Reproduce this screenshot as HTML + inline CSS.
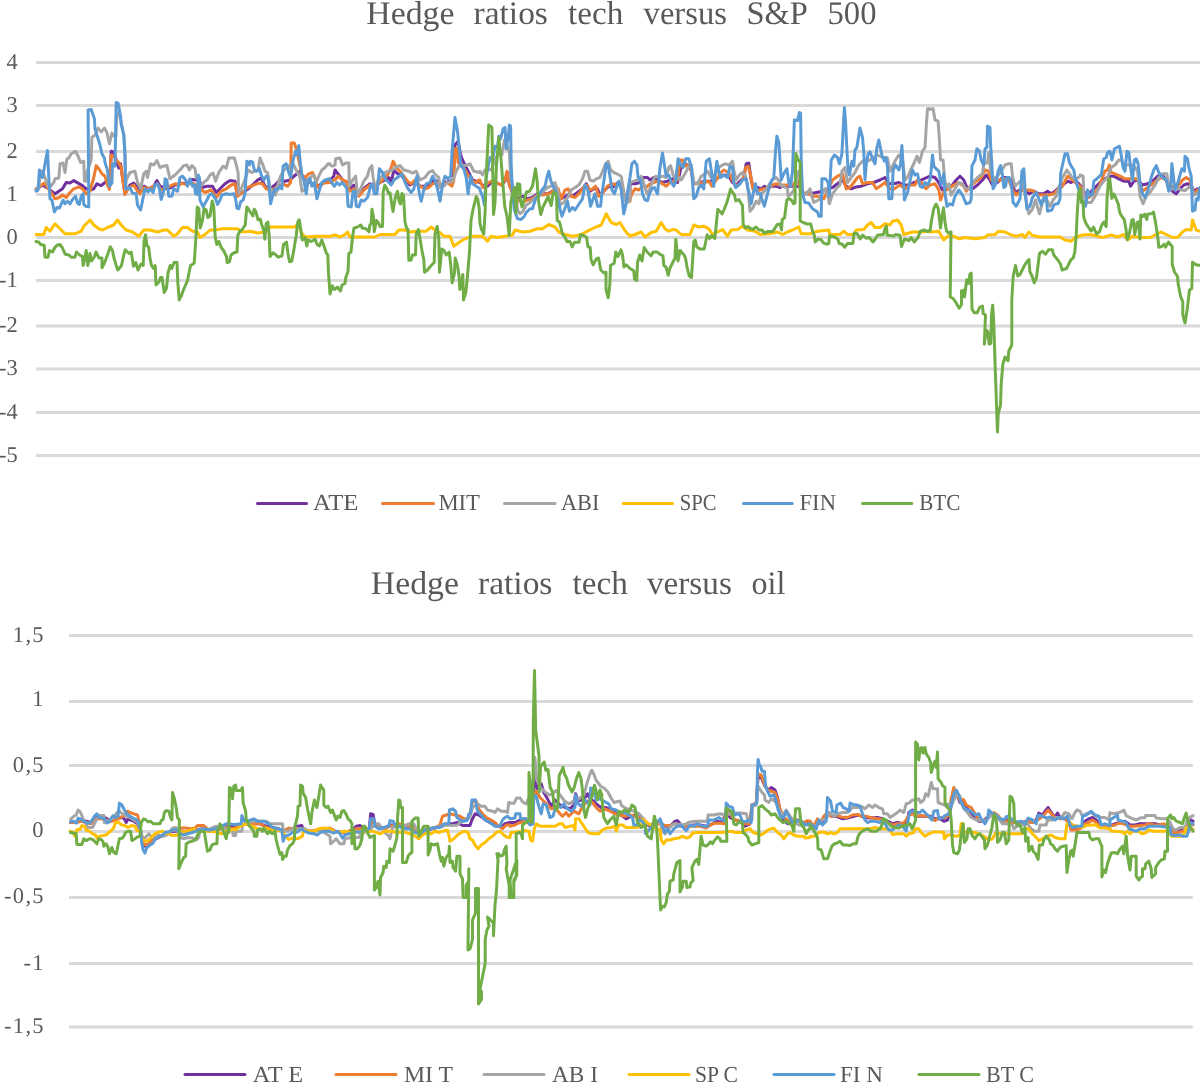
<!DOCTYPE html><html><head><meta charset="utf-8"><title>Hedge ratios</title><style>html,body{margin:0;padding:0;background:#fff}body{width:1200px;height:1082px;overflow:hidden}svg{display:block;will-change:transform}text{font-family:"Liberation Serif",serif;fill:#595959;text-rendering:geometricPrecision}</style></head><body>
<svg width="1200" height="1082" viewBox="0 0 1200 1082">
<rect width="1200" height="1082" fill="#fff"/>
<rect x="36.2" y="61.0" width="1164" height="3" fill="#d9d9d9"/>
<text x="17.8" y="68.8" font-size="22.5" text-anchor="end">4</text>
<rect x="36.2" y="104.0" width="1164" height="3" fill="#d9d9d9"/>
<text x="17.8" y="111.8" font-size="22.5" text-anchor="end">3</text>
<rect x="36.2" y="150.0" width="1164" height="3" fill="#d9d9d9"/>
<text x="17.8" y="157.8" font-size="22.5" text-anchor="end">2</text>
<rect x="36.2" y="193.0" width="1164" height="3" fill="#d9d9d9"/>
<text x="17.8" y="200.8" font-size="22.5" text-anchor="end">1</text>
<rect x="36.2" y="236.0" width="1164" height="3" fill="#d9d9d9"/>
<text x="17.8" y="243.8" font-size="22.5" text-anchor="end">0</text>
<rect x="36.2" y="279.0" width="1164" height="3" fill="#d9d9d9"/>
<text x="17.8" y="286.8" font-size="22.5" text-anchor="end">-1</text>
<rect x="36.2" y="324.5" width="1164" height="3" fill="#d9d9d9"/>
<text x="17.8" y="332.3" font-size="22.5" text-anchor="end">-2</text>
<rect x="36.2" y="367.5" width="1164" height="3" fill="#d9d9d9"/>
<text x="17.8" y="375.3" font-size="22.5" text-anchor="end">-3</text>
<rect x="36.2" y="411.0" width="1164" height="3" fill="#d9d9d9"/>
<text x="17.8" y="418.8" font-size="22.5" text-anchor="end">-4</text>
<rect x="36.2" y="454.0" width="1164" height="3" fill="#d9d9d9"/>
<text x="17.8" y="461.8" font-size="22.5" text-anchor="end">-5</text>
<rect x="68.9" y="634.0" width="1123.9" height="3" fill="#d9d9d9"/>
<text x="44.9" y="641.8" font-size="22.5" text-anchor="end" letter-spacing="1.3">1,5</text>
<rect x="68.9" y="700.0" width="1123.9" height="3" fill="#d9d9d9"/>
<text x="44.9" y="705.6" font-size="22.5" text-anchor="end" letter-spacing="1.3">1</text>
<rect x="68.9" y="764.0" width="1123.9" height="3" fill="#d9d9d9"/>
<text x="44.9" y="771.8" font-size="22.5" text-anchor="end" letter-spacing="1.3">0,5</text>
<rect x="68.9" y="830.0" width="1123.9" height="3" fill="#d9d9d9"/>
<text x="44.9" y="837.0" font-size="22.5" text-anchor="end" letter-spacing="1.3">0</text>
<rect x="68.9" y="896.0" width="1123.9" height="3" fill="#d9d9d9"/>
<text x="44.9" y="903.4" font-size="22.5" text-anchor="end" letter-spacing="1.3">-0,5</text>
<rect x="68.9" y="962.0" width="1123.9" height="3" fill="#d9d9d9"/>
<text x="44.9" y="969.6" font-size="22.5" text-anchor="end" letter-spacing="1.3">-1</text>
<rect x="68.9" y="1025.5" width="1123.9" height="3" fill="#d9d9d9"/>
<text x="44.9" y="1033.0" font-size="22.5" text-anchor="end" letter-spacing="1.3">-1,5</text>
<text x="366.3" y="23.6" font-size="33" textLength="88.2" lengthAdjust="spacingAndGlyphs">Hedge</text>
<text x="473.6" y="23.6" font-size="33" textLength="74.3" lengthAdjust="spacingAndGlyphs">ratios</text>
<text x="568.1" y="23.6" font-size="33" textLength="55.2" lengthAdjust="spacingAndGlyphs">tech</text>
<text x="643.6" y="23.6" font-size="33" textLength="83.3" lengthAdjust="spacingAndGlyphs">versus</text>
<text x="746.5" y="23.6" font-size="33" textLength="61.4" lengthAdjust="spacingAndGlyphs">S&amp;P</text>
<text x="827.5" y="23.6" font-size="33" textLength="49.0" lengthAdjust="spacingAndGlyphs">500</text>
<text x="370.8" y="593.8" font-size="33" textLength="88.2" lengthAdjust="spacingAndGlyphs">Hedge</text>
<text x="478.1" y="593.8" font-size="33" textLength="74.3" lengthAdjust="spacingAndGlyphs">ratios</text>
<text x="572.6" y="593.8" font-size="33" textLength="55.2" lengthAdjust="spacingAndGlyphs">tech</text>
<text x="647.0" y="593.8" font-size="33" textLength="84.8" lengthAdjust="spacingAndGlyphs">versus</text>
<text x="751.6" y="593.8" font-size="33" textLength="33.8" lengthAdjust="spacingAndGlyphs">oil</text>
<polyline points="36.2,189.4 42.5,185.0 45.6,186.9 48.8,188.8 55.0,193.8 58.8,191.2 62.5,188.8 66.2,182.5 70.0,183.1 73.8,180.6 78.1,183.1 82.5,185.6 86.2,188.8 90.0,190.0 93.8,188.8 96.9,183.8 101.2,185.6 105.0,182.5 108.1,180.0 110.0,185.0 111.2,151.2 113.8,151.9 116.2,160.0 118.8,168.1 120.6,163.8 122.5,177.5 125.0,193.8 130.0,185.0 133.8,183.1 137.5,187.5 140.6,190.0 143.8,186.2 148.8,188.8 153.8,186.2 156.9,180.6 160.0,186.2 163.8,187.5 167.5,188.8 171.2,187.5 175.0,185.0 180.0,183.8 180.0,183.1 186.2,183.8 191.9,179.4 196.2,180.0 200.0,181.9 201.9,187.5 206.9,186.2 212.5,186.2 216.2,192.5 220.0,188.8 225.0,183.8 230.0,180.6 235.0,181.2 237.5,195.0 242.5,192.5 247.5,189.4 252.5,185.0 257.5,180.0 261.2,178.1 265.0,186.2 270.0,188.8 275.0,185.0 280.0,180.0 285.0,181.2 290.0,180.0 292.5,177.5 300.0,171.2 303.8,178.8 310.0,182.5 317.5,186.2 323.8,182.5 330.0,182.5 330.0,180.0 333.8,176.2 335.0,170.0 338.8,175.0 342.5,180.0 347.5,182.5 350.0,188.8 353.8,185.0 356.2,188.8 358.8,193.8 365.0,187.5 370.0,183.8 375.0,186.2 380.0,182.5 385.0,180.0 388.8,177.5 391.2,182.5 393.8,170.0 397.5,173.8 401.2,175.0 405.0,180.0 410.0,185.0 415.0,182.5 420.0,186.2 425.0,186.2 430.0,183.8 433.8,180.0 437.5,181.2 440.0,186.2 445.0,182.5 450.0,181.2 453.1,180.0 455.0,145.0 458.1,141.2 460.6,155.0 463.1,161.2 466.2,167.5 468.8,172.5 472.5,180.0 476.2,181.2 480.0,182.5 480.0,182.5 483.8,186.2 487.5,186.2 491.2,182.5 496.2,182.5 501.2,185.0 505.0,181.2 507.5,172.5 509.4,185.0 512.5,192.5 517.5,198.8 522.5,196.2 527.5,198.8 532.5,197.5 537.5,193.8 542.5,193.8 547.5,193.8 552.5,191.2 557.5,190.0 561.2,198.8 567.5,195.0 572.5,196.2 577.5,192.5 582.5,188.8 586.2,183.8 590.0,191.2 593.8,188.8 597.5,188.8 600.0,195.0 605.0,190.0 608.8,186.2 612.5,187.5 616.2,183.8 618.8,182.5 622.5,190.0 626.2,200.0 630.0,198.8 630.0,183.8 635.0,183.8 640.0,182.5 643.8,177.5 647.5,177.5 650.0,180.0 653.8,177.5 657.5,180.0 662.5,182.5 667.5,181.2 672.5,178.8 677.5,182.5 681.2,167.5 683.8,163.8 687.5,165.0 691.2,170.0 693.8,183.8 700.0,182.5 705.0,181.2 710.0,181.2 715.0,180.0 720.0,176.2 725.0,175.0 728.8,176.2 732.5,182.5 736.2,185.0 740.0,181.2 743.8,177.5 746.2,163.8 748.8,163.1 751.2,180.0 753.8,190.0 757.5,187.5 761.2,188.8 764.4,186.2 767.5,188.8 771.2,186.2 776.2,186.2 780.0,187.5 780.0,186.2 786.2,186.2 792.5,186.2 798.8,186.2 803.8,193.8 810.0,193.8 816.2,192.5 822.5,191.2 827.5,188.8 832.5,187.5 837.5,183.8 842.5,180.0 846.2,186.2 851.2,188.8 856.2,186.9 861.2,186.2 867.5,183.8 873.8,182.5 880.0,180.0 885.0,177.5 888.8,183.8 893.8,183.8 898.8,182.5 903.8,185.0 908.8,185.0 913.8,182.5 918.8,181.2 923.8,178.8 930.0,176.2 930.0,176.2 935.0,177.5 938.8,182.5 942.5,190.0 947.5,188.8 952.5,185.0 956.2,180.0 960.0,176.2 963.8,180.0 967.5,188.8 972.5,188.8 977.5,185.0 982.5,180.0 986.2,175.0 990.0,180.0 992.5,185.0 997.5,182.5 1002.5,177.5 1007.5,177.5 1011.2,180.0 1015.0,192.5 1020.0,190.0 1023.8,188.8 1028.8,193.8 1033.8,191.2 1038.8,193.8 1043.8,193.8 1047.5,191.2 1051.2,193.8 1055.0,191.2 1058.8,187.5 1062.5,185.0 1067.5,181.2 1071.2,182.5 1075.0,180.0 1080.0,185.0 1080.0,185.0 1083.8,192.5 1088.8,193.8 1093.8,188.8 1100.0,182.5 1105.0,178.8 1110.0,176.2 1113.8,176.2 1118.8,178.8 1123.8,181.2 1128.8,181.2 1130.6,186.2 1133.8,181.2 1137.5,180.0 1142.5,185.0 1147.5,183.8 1152.5,181.2 1157.5,176.2 1162.5,175.0 1167.5,182.5 1172.5,191.2 1176.2,193.8 1180.0,188.8 1183.8,185.0 1187.5,183.8 1191.2,185.0 1193.8,191.2 1197.5,188.8 1200.0,190.0" fill="none" stroke="#7030a0" stroke-width="3.0" stroke-linejoin="round" stroke-linecap="round"/>
<polyline points="36.2,188.8 40.0,186.2 44.4,183.1 47.5,187.5 51.2,192.5 55.0,198.8 59.4,197.5 62.5,195.0 66.2,197.5 70.0,192.5 73.8,188.8 78.8,186.9 82.5,188.8 86.2,193.8 90.0,191.2 93.8,177.5 96.2,165.6 98.8,168.8 101.9,173.8 105.0,176.2 107.5,185.0 109.4,189.4 111.2,155.0 113.8,156.2 116.2,160.0 118.8,162.5 121.2,167.5 123.1,182.5 125.0,194.4 128.8,187.5 133.8,185.0 137.5,191.2 140.0,193.8 143.8,187.5 148.8,188.8 153.8,186.2 157.5,183.8 161.2,190.0 166.2,187.5 170.0,186.2 175.0,183.8 180.0,185.0 180.0,183.1 186.2,184.4 192.5,183.1 196.2,185.0 201.9,190.0 205.0,192.5 211.2,190.0 216.2,197.5 221.2,191.2 226.2,188.8 231.2,185.0 235.0,183.8 237.5,196.2 242.5,192.5 247.5,187.5 252.5,185.6 258.8,183.1 262.5,183.8 266.2,188.8 271.2,190.0 276.2,187.5 282.5,183.8 287.5,186.2 290.6,182.5 291.2,143.1 294.4,143.1 296.9,151.2 298.8,160.0 301.9,175.0 305.0,177.5 308.8,173.8 312.5,172.5 315.0,177.5 317.5,187.5 323.8,183.1 330.0,182.5 330.0,181.2 335.0,180.0 338.1,176.2 342.5,180.0 346.2,181.2 350.0,191.2 355.0,188.8 358.8,196.2 363.8,190.0 370.0,185.0 375.0,185.0 380.0,182.5 383.8,178.8 387.5,175.0 391.2,167.5 393.1,161.2 396.2,167.5 400.0,171.2 403.8,176.2 407.5,181.2 411.2,183.8 415.0,180.0 420.0,186.2 425.0,188.8 428.8,187.5 432.5,183.8 437.5,182.5 442.5,185.0 447.5,182.5 451.9,186.2 453.8,180.0 455.0,148.8 456.9,148.8 458.1,162.5 461.2,165.0 465.0,170.0 468.8,176.2 472.5,181.2 476.2,182.5 478.8,180.0 480.0,180.0 480.0,181.2 483.1,187.5 486.9,183.8 491.2,181.2 496.2,182.5 501.2,185.0 505.0,180.0 506.9,171.2 509.4,185.0 512.5,193.8 517.5,200.0 522.5,202.5 527.5,200.0 532.5,198.8 537.5,195.0 542.5,195.0 547.5,193.8 551.2,192.5 555.0,188.8 558.1,188.8 561.2,198.8 565.0,190.0 568.1,188.8 571.2,196.2 575.0,197.5 578.8,193.8 582.5,188.8 586.2,185.0 590.0,190.0 592.5,188.8 595.6,186.2 598.8,196.2 603.1,192.5 607.5,186.2 612.5,183.8 616.2,185.0 620.0,185.0 623.8,193.8 627.5,201.2 630.0,201.2 630.0,198.8 632.5,192.5 635.0,188.8 638.8,190.0 642.5,186.2 646.2,187.5 650.0,183.8 653.8,182.5 657.5,181.2 662.5,183.8 666.2,186.2 670.0,182.5 673.8,181.2 677.5,180.0 680.0,160.0 682.5,160.0 685.0,166.2 688.1,165.0 691.2,171.2 693.8,183.8 698.8,183.8 703.8,182.5 708.8,181.2 711.9,186.2 716.2,180.0 720.0,173.8 723.8,170.0 728.8,172.5 732.5,180.0 736.2,186.2 740.0,183.8 743.8,177.5 745.6,167.5 748.1,166.2 750.6,175.0 753.1,190.0 756.2,191.2 760.0,190.0 763.8,188.8 767.5,188.8 772.5,185.0 776.2,183.8 780.0,185.0 780.0,185.0 786.2,185.0 792.5,185.0 797.5,180.0 802.5,193.8 807.5,192.5 812.5,196.2 817.5,196.2 823.8,198.8 827.5,190.0 832.5,180.0 837.5,176.2 842.5,173.8 846.2,188.8 850.0,187.5 853.8,182.5 857.5,177.5 860.0,176.2 862.5,183.8 867.5,182.5 872.5,182.5 876.2,188.8 880.0,186.2 885.0,182.5 888.8,187.5 892.5,190.0 896.2,187.5 900.0,185.0 905.0,188.8 910.0,185.0 915.0,185.0 917.5,180.0 922.5,183.8 926.2,188.8 930.0,185.0 930.0,185.0 935.0,183.8 938.8,190.0 940.6,200.0 943.8,191.2 948.8,188.8 953.8,185.0 958.8,182.5 963.8,186.2 966.2,191.2 971.2,185.0 976.2,181.2 981.2,177.5 985.0,170.0 988.1,171.2 991.2,180.0 995.0,181.2 1000.0,180.0 1005.0,178.8 1008.8,180.0 1012.5,190.0 1016.2,195.0 1020.0,191.2 1025.0,190.0 1030.0,190.0 1033.8,191.2 1038.8,195.0 1043.8,195.0 1048.8,195.0 1053.8,193.8 1057.5,190.0 1062.5,186.2 1067.5,176.2 1071.2,178.8 1075.0,182.5 1080.0,186.2 1080.0,186.2 1083.8,196.2 1088.8,197.5 1093.8,193.8 1098.8,187.5 1102.5,177.5 1105.0,171.2 1107.5,170.0 1109.4,165.0 1111.2,172.5 1115.0,173.8 1120.0,176.2 1125.0,178.8 1130.0,178.8 1135.0,178.8 1138.8,180.0 1142.5,191.2 1147.5,187.5 1152.5,183.8 1157.5,180.0 1161.2,177.5 1166.2,180.0 1170.0,185.0 1175.0,188.8 1178.8,185.0 1182.5,180.0 1186.2,177.5 1190.0,180.0 1193.8,195.0 1197.5,190.0 1200.0,192.5" fill="none" stroke="#ed7d31" stroke-width="3.0" stroke-linejoin="round" stroke-linecap="round"/>
<polyline points="35.6,189.4 38.8,187.5 40.6,171.2 42.5,171.2 45.0,177.5 48.8,187.5 50.6,186.2 53.8,182.5 55.0,178.8 58.8,178.1 60.0,163.8 63.1,163.1 65.0,172.5 66.9,158.8 68.8,158.1 71.2,153.8 75.6,151.2 78.1,156.2 80.6,162.5 83.8,161.2 84.4,181.2 86.2,181.2 86.9,172.5 91.2,160.0 91.9,137.5 95.0,135.0 98.1,128.1 101.2,131.9 104.4,128.1 106.9,132.5 109.4,143.8 111.9,133.1 114.4,136.2 116.0,136.2 116.5,115.0 118.5,112.5 120.9,121.2 121.4,124.4 123.8,135.0 125.0,155.0 125.6,188.8 126.2,180.0 130.0,172.5 135.0,171.2 137.5,182.5 140.6,188.8 143.8,173.8 146.2,171.2 147.5,177.5 150.6,163.8 153.8,165.0 156.9,160.6 160.0,167.5 163.1,166.2 166.9,165.6 170.0,178.8 175.0,175.0 180.0,170.0 180.0,170.0 183.8,165.6 186.9,165.0 189.4,170.0 191.9,165.6 195.0,168.8 196.2,177.5 198.8,180.0 200.6,186.2 204.4,181.9 207.5,179.4 210.0,175.0 213.1,173.1 215.6,181.2 218.8,172.5 223.1,166.2 226.2,168.1 228.8,158.1 234.4,158.1 236.9,167.5 238.1,172.5 238.8,193.8 241.2,188.8 243.8,182.5 245.6,177.5 248.1,170.0 251.9,172.5 255.0,171.2 258.1,170.0 260.0,158.1 262.5,163.8 265.0,171.2 267.5,172.5 270.0,187.5 273.1,193.8 275.6,195.0 278.8,181.2 280.6,176.2 283.8,170.0 287.5,167.5 290.0,165.0 293.1,163.8 296.2,170.0 300.0,177.5 301.9,191.2 305.0,190.0 306.9,180.0 310.0,177.5 313.8,175.0 316.2,182.5 318.8,176.2 321.9,170.0 325.0,167.5 328.1,163.8 330.0,163.8 330.0,165.0 332.5,166.2 335.0,165.0 335.6,158.8 340.0,158.1 342.5,165.0 345.6,163.1 348.8,163.1 349.4,186.2 351.9,181.2 355.6,176.2 357.5,195.0 360.6,188.8 363.8,181.2 367.5,176.2 369.4,168.8 371.9,165.6 373.1,177.5 375.6,190.0 378.1,180.0 381.2,177.5 385.0,172.5 388.8,171.2 392.5,170.0 395.0,167.5 400.0,165.6 403.8,170.0 408.8,171.2 412.5,173.1 416.2,171.2 420.0,180.0 425.0,177.5 428.8,172.5 432.5,170.6 435.6,175.0 438.8,177.5 440.0,187.5 443.8,186.2 447.5,182.5 452.5,181.2 456.2,171.2 458.8,166.2 462.5,165.6 466.2,165.6 470.0,163.8 473.8,171.2 480.0,172.5 480.0,171.2 482.5,175.0 485.0,170.0 487.5,168.8 491.2,170.0 495.0,160.0 498.8,152.5 501.9,155.0 504.4,140.0 506.9,145.0 509.4,152.5 510.6,177.5 513.1,187.5 515.6,190.0 517.5,210.0 520.0,213.8 523.1,211.2 526.2,205.0 530.0,202.5 533.8,198.8 537.5,195.0 541.2,193.8 544.4,190.0 547.5,187.5 551.2,186.2 555.0,182.5 557.5,190.0 560.0,205.0 563.8,202.5 567.5,197.5 571.2,190.0 575.0,187.5 578.8,185.0 582.5,178.8 585.0,171.2 587.5,171.2 590.0,180.0 593.1,181.2 596.2,178.8 600.0,177.5 603.1,170.0 605.6,163.8 608.1,161.2 610.6,170.0 613.8,172.5 616.9,173.8 621.2,176.2 623.1,187.5 625.0,200.0 627.5,202.5 630.0,200.0 630.0,182.5 633.8,181.2 637.5,180.0 641.2,176.2 644.4,185.0 646.9,193.8 650.0,188.8 653.1,180.0 655.6,176.2 658.8,177.5 662.5,176.2 666.2,177.5 668.8,167.5 670.6,165.6 673.1,175.0 675.6,180.0 678.8,177.5 681.2,180.0 685.0,173.8 688.1,167.5 691.2,165.0 693.8,182.5 697.5,183.8 701.2,176.2 705.0,173.8 707.5,171.2 711.2,177.5 715.0,175.0 718.8,167.5 722.5,165.0 725.6,163.8 728.8,165.0 732.5,161.2 733.8,170.0 736.2,180.0 739.4,175.0 742.5,172.5 745.0,175.0 747.5,183.8 750.0,211.2 753.1,207.5 756.2,201.2 758.8,203.8 761.2,193.8 765.6,190.0 768.8,185.0 772.5,180.0 776.2,177.5 780.0,182.5 780.0,185.0 783.8,186.2 787.5,188.8 788.1,196.2 791.2,193.8 793.8,190.0 796.2,182.5 798.8,171.2 801.2,177.5 803.1,195.0 806.2,193.8 810.0,188.8 811.9,196.2 813.8,202.5 816.2,201.2 818.8,200.0 821.9,193.8 825.0,188.8 827.5,195.0 829.4,203.8 832.5,193.8 836.2,188.8 840.0,185.0 841.9,171.2 845.0,167.5 847.5,182.5 851.2,177.5 855.0,172.5 858.8,165.0 862.5,161.2 866.2,161.2 870.0,160.0 873.8,157.5 877.5,155.0 882.5,157.5 887.5,158.1 890.0,171.2 892.5,166.2 895.6,160.0 898.8,155.0 902.5,160.0 905.0,180.0 907.5,177.5 910.6,170.0 913.8,163.8 916.9,156.2 919.4,162.5 922.5,151.2 925.0,147.5 926.2,127.5 927.5,108.8 930.0,108.8 930.0,109.4 933.1,108.8 935.0,120.0 938.1,121.2 939.4,140.0 940.6,160.0 943.1,160.0 944.4,177.5 946.2,187.5 948.8,183.8 951.2,195.0 955.0,188.8 958.8,182.5 962.5,183.8 965.6,188.8 968.8,188.8 972.5,182.5 977.5,177.5 982.5,173.8 983.8,163.8 987.5,162.5 988.8,152.5 990.6,171.2 993.8,178.8 997.5,176.2 1001.2,171.2 1005.0,165.0 1008.1,163.8 1011.2,163.8 1012.5,176.2 1015.0,186.2 1018.8,182.5 1022.5,180.0 1025.0,195.0 1028.8,213.8 1032.5,208.8 1035.6,200.0 1039.4,213.8 1042.5,202.5 1046.2,198.8 1050.0,206.2 1053.1,200.0 1056.2,196.2 1058.8,187.5 1062.5,177.5 1066.9,170.0 1071.2,176.2 1075.0,180.0 1080.0,176.2 1080.0,175.0 1083.1,176.2 1083.8,193.8 1087.5,202.5 1091.2,202.5 1095.0,196.2 1100.0,186.2 1103.8,181.2 1107.5,177.5 1111.2,167.5 1115.0,165.0 1118.8,160.0 1121.2,160.0 1123.8,165.0 1127.5,165.0 1131.2,165.0 1135.0,167.5 1137.5,171.2 1140.0,196.2 1143.1,203.8 1146.2,196.2 1150.0,192.5 1155.0,185.0 1158.8,177.5 1162.5,173.8 1166.9,173.8 1168.8,190.0 1172.5,188.8 1176.2,187.5 1181.2,190.0 1185.0,190.6 1188.8,187.5 1191.2,185.0 1193.8,195.0 1196.2,193.8 1200.0,191.2" fill="none" stroke="#a5a5a5" stroke-width="3.0" stroke-linejoin="round" stroke-linecap="round"/>
<polyline points="36.2,234.5 43.8,234.5 46.2,227.5 50.0,231.2 55.0,223.8 60.0,228.8 65.0,233.8 75.0,233.8 81.2,231.2 83.8,226.2 90.0,220.0 93.8,225.0 98.8,228.8 102.5,230.0 107.5,227.5 113.8,225.0 117.5,220.0 121.2,225.0 126.2,230.0 132.5,232.0 138.8,236.2 143.8,230.0 150.0,230.0 157.5,232.0 163.8,230.0 167.5,230.0 173.8,236.2 177.5,233.8 182.5,227.5 187.5,227.5 192.5,231.2 197.5,232.0 200.0,237.5 205.0,234.5 210.0,230.0 215.0,230.0 222.5,228.8 230.0,228.8 237.5,228.8 242.5,232.0 250.0,231.2 257.5,233.0 265.0,232.0 270.0,227.0 280.0,227.0 295.0,227.0 298.8,222.5 301.2,232.5 305.0,237.0 317.5,236.2 330.0,236.2 330.0,236.2 335.0,235.0 340.0,237.0 345.0,234.5 347.5,232.0 350.0,237.0 360.0,237.0 375.0,237.0 380.0,234.5 395.0,234.5 398.8,230.0 405.0,230.0 410.0,232.0 417.5,231.2 426.2,231.2 431.2,227.0 435.0,230.0 440.0,232.5 443.8,236.2 450.0,236.2 453.8,246.2 458.8,242.5 465.0,238.8 472.5,236.2 482.5,236.2 487.5,241.2 491.2,236.2 497.5,237.5 505.0,236.2 512.5,235.0 515.0,230.0 522.5,232.0 530.0,231.2 537.5,228.8 542.5,228.8 548.8,224.5 555.0,227.0 558.8,232.0 565.0,234.5 572.5,236.2 580.0,235.0 587.5,231.2 595.0,227.5 601.2,225.0 606.2,213.8 611.2,222.5 616.2,224.5 620.0,222.5 623.8,228.8 627.5,233.8 630.0,235.0 630.0,236.2 635.0,234.5 641.2,232.0 645.0,237.0 651.2,232.5 656.2,231.2 661.2,222.5 665.0,228.8 668.8,231.2 672.5,229.5 676.2,230.0 681.2,234.5 690.0,234.5 693.8,225.0 698.8,227.0 703.8,226.2 708.8,228.8 712.5,234.5 717.5,232.0 722.5,229.5 727.5,236.2 731.2,230.0 737.5,229.5 742.5,226.2 747.5,230.0 755.0,231.2 760.0,234.5 770.0,233.8 777.5,232.0 782.5,234.5 787.5,232.0 792.5,230.0 798.8,227.0 801.2,233.8 810.0,233.8 817.5,231.2 828.8,230.0 830.0,234.5 840.0,234.5 843.8,231.2 847.5,234.5 853.8,234.5 856.2,230.0 863.8,229.5 867.5,225.0 871.2,222.5 875.0,227.5 880.0,227.5 885.0,223.8 890.0,225.0 892.5,221.2 897.5,220.0 901.2,225.0 903.8,234.5 912.5,232.0 920.0,232.0 930.0,231.2 930.0,232.0 938.8,231.2 943.8,240.0 947.5,236.2 953.8,236.2 958.8,238.8 965.0,237.5 975.0,238.8 985.0,237.5 987.5,235.0 995.0,234.5 998.8,231.2 1005.0,232.0 1011.2,235.0 1016.2,236.2 1022.5,234.5 1025.0,237.5 1028.8,232.0 1032.5,235.5 1040.0,237.0 1050.0,237.0 1060.0,237.0 1065.0,240.0 1071.2,241.2 1075.0,237.5 1082.5,235.0 1090.0,234.5 1097.5,236.2 1102.5,237.5 1111.2,235.0 1117.5,237.0 1123.8,234.5 1127.5,240.0 1132.5,236.2 1140.0,237.5 1150.0,237.5 1155.0,235.0 1161.2,232.0 1166.2,234.5 1172.5,237.5 1177.5,237.5 1182.5,232.0 1186.2,229.5 1191.2,230.0 1192.5,220.0 1196.2,230.0 1200.0,231.2" fill="none" stroke="#ffc000" stroke-width="3.0" stroke-linejoin="round" stroke-linecap="round"/>
<polyline points="36.2,191.2 38.1,190.0 39.4,170.0 41.2,176.2 42.5,177.5 47.5,150.6 48.8,177.5 50.0,198.8 51.9,200.0 54.4,211.9 56.9,207.5 59.4,208.1 63.1,200.0 65.0,203.8 67.5,201.2 70.0,203.8 73.1,198.8 75.6,196.2 77.5,203.1 79.4,204.4 81.2,196.2 83.1,193.8 83.8,204.4 85.6,206.2 88.8,206.9 88.1,110.0 91.2,109.4 94.4,118.8 95.0,128.8 100.0,145.0 101.9,153.8 104.4,158.1 105.0,162.5 107.5,170.0 109.4,186.2 111.9,183.1 112.5,163.8 115.0,166.2 116.2,102.5 118.1,103.1 120.6,116.2 121.2,123.8 123.8,135.0 125.0,155.0 125.6,188.8 128.1,188.8 130.0,187.5 132.5,193.1 136.2,193.8 137.5,205.0 140.6,210.0 145.0,188.8 148.1,191.9 150.0,188.8 153.1,192.5 155.0,185.0 157.5,183.8 159.4,188.8 161.2,199.4 164.4,188.8 165.0,178.8 166.9,180.0 168.8,196.2 171.9,196.2 173.8,188.8 177.5,191.2 180.0,177.5 180.0,177.5 182.5,176.2 185.6,180.0 187.5,186.2 190.0,178.8 192.5,186.2 194.4,185.0 195.6,193.8 197.5,194.4 198.1,175.0 199.4,177.5 200.0,200.0 203.1,206.9 206.9,200.0 209.4,195.0 211.9,193.8 215.6,198.8 217.5,204.4 220.0,200.0 221.9,195.0 226.2,193.8 230.0,194.4 233.8,193.8 235.6,198.8 236.9,208.1 238.8,208.8 240.6,201.9 243.1,200.0 245.0,193.8 246.9,161.2 249.4,165.0 250.0,161.2 252.5,161.9 254.4,170.0 256.9,171.2 259.4,168.1 261.2,175.0 263.8,180.0 266.2,176.2 268.1,177.5 269.4,190.0 270.6,203.8 273.1,193.8 275.0,188.8 277.5,190.0 280.0,186.2 281.9,188.8 283.1,166.2 286.2,163.8 288.8,172.5 290.6,177.5 293.1,160.0 295.6,151.2 296.9,155.0 298.8,145.6 300.0,160.0 301.9,175.0 303.8,180.0 306.2,193.8 308.1,180.0 310.0,178.8 311.9,186.2 314.4,182.5 316.9,198.8 319.4,190.0 321.9,182.5 325.0,180.0 330.0,178.8 330.0,178.8 332.5,183.8 334.4,186.2 336.9,182.5 339.4,185.0 341.9,182.5 344.4,185.0 346.9,188.8 348.1,206.2 351.2,206.9 353.1,191.2 355.0,191.2 356.2,206.2 358.8,206.9 361.2,200.0 363.8,201.2 367.5,197.5 370.6,186.2 372.5,183.8 374.4,193.8 376.9,193.8 379.4,168.8 382.5,172.5 386.2,180.0 388.8,182.5 391.2,185.0 393.8,180.0 397.5,177.5 401.9,173.8 405.0,182.5 408.1,188.8 411.2,192.5 413.8,188.8 416.9,176.2 419.4,193.8 421.2,201.2 423.8,190.0 426.2,183.8 430.0,182.5 432.5,176.2 435.0,180.0 437.5,188.8 440.0,201.2 442.5,185.0 445.0,176.2 448.1,178.8 450.6,176.2 452.5,146.2 455.0,117.5 457.5,131.2 459.4,150.0 460.6,165.0 463.8,168.8 466.2,177.5 468.1,193.8 470.6,176.2 472.5,183.8 476.2,186.2 480.0,188.8 480.0,190.0 482.5,196.2 484.4,205.0 486.2,177.5 487.5,170.0 490.0,157.5 492.5,160.0 495.0,146.2 497.5,147.5 498.8,136.2 500.6,138.8 503.1,128.8 505.0,127.5 506.2,148.8 508.1,137.5 509.4,125.0 510.6,126.2 511.2,165.0 512.5,192.5 514.4,210.0 517.5,218.8 521.2,219.4 524.4,216.2 526.2,212.5 530.0,208.8 532.5,208.8 535.6,198.8 538.8,196.2 541.9,190.0 545.0,186.2 546.9,177.5 548.8,171.2 550.6,180.0 552.5,185.0 555.0,190.0 557.5,197.5 560.0,208.8 561.9,216.2 564.4,210.0 567.5,201.2 569.4,211.2 572.5,207.5 575.0,210.0 577.5,206.2 580.0,202.5 582.5,198.8 585.0,185.0 587.5,188.8 589.4,198.8 590.6,206.2 593.1,198.8 595.0,193.8 597.5,206.2 600.6,206.2 601.9,193.8 604.4,177.5 606.2,163.8 608.1,165.0 610.6,180.0 611.9,190.0 614.4,193.8 616.9,186.2 618.8,181.2 621.2,190.0 623.8,213.8 625.6,206.2 627.5,192.5 630.0,177.5 630.0,177.5 631.9,163.8 634.4,161.2 636.9,165.0 638.1,177.5 640.6,180.0 642.5,193.8 645.0,200.0 647.5,200.6 649.4,193.8 651.9,188.8 654.4,187.5 657.5,193.8 660.0,167.5 662.5,153.1 664.4,165.0 666.2,176.2 668.8,175.0 671.2,182.5 673.8,186.2 675.6,181.2 678.1,158.8 680.6,165.0 683.1,167.5 685.6,158.8 688.8,158.8 691.2,166.2 692.5,182.5 693.8,198.8 696.2,196.2 698.8,187.5 701.2,185.0 703.8,188.8 706.2,161.2 709.4,158.8 711.2,170.0 713.8,186.2 715.6,171.2 716.9,161.2 718.8,171.2 720.6,177.5 723.8,175.0 727.5,177.5 730.0,166.2 732.5,167.5 733.8,182.5 735.6,187.5 738.8,185.0 742.5,180.0 746.2,178.8 747.5,187.5 749.4,193.8 751.2,203.8 753.1,193.8 755.6,183.8 757.5,193.8 760.6,193.8 762.5,201.2 764.4,206.2 766.9,196.2 768.8,188.8 771.2,181.2 773.8,177.5 775.6,150.0 776.9,136.2 778.8,142.5 780.0,160.0 780.0,160.0 781.2,180.0 784.4,172.5 786.9,168.8 788.8,182.5 790.6,186.2 792.5,171.2 794.4,120.0 797.5,120.6 799.4,112.5 800.6,113.1 801.2,160.0 802.5,193.8 805.0,202.5 808.8,203.1 812.5,208.8 817.5,211.9 818.8,216.2 821.2,216.2 821.9,178.8 825.6,178.8 828.1,182.5 829.4,196.2 831.2,160.0 834.4,155.0 837.5,157.5 839.4,163.8 841.9,153.8 843.1,130.0 844.4,107.5 845.6,122.5 846.9,150.0 848.1,170.0 849.4,175.0 851.9,161.2 853.8,166.2 855.0,150.0 856.9,147.5 860.0,128.1 862.5,137.5 863.8,152.5 865.0,180.0 866.2,165.0 868.1,153.8 870.0,151.9 873.1,160.0 875.0,163.8 876.9,147.5 878.8,140.0 880.6,148.8 881.9,155.0 884.4,161.2 886.2,157.5 887.5,167.5 888.8,198.8 891.9,198.8 893.1,170.0 895.6,165.0 898.8,170.0 900.6,163.8 901.9,145.6 903.1,165.0 904.4,200.0 907.5,192.5 910.0,181.2 912.5,170.0 915.0,175.0 917.5,173.8 920.0,186.2 922.5,187.5 925.0,182.5 927.5,185.0 930.0,180.0 930.0,180.0 931.2,170.0 932.5,155.0 933.8,166.2 936.2,168.8 938.8,171.2 941.2,185.0 943.8,173.8 945.0,193.8 946.9,206.2 950.0,203.8 952.5,205.0 955.0,196.2 958.8,190.0 962.5,195.0 966.2,203.8 970.0,202.5 971.2,198.8 971.9,166.2 975.0,160.0 976.9,148.8 979.4,151.2 981.2,160.0 983.8,165.0 985.0,148.8 986.9,147.5 987.5,126.2 990.0,127.5 990.6,145.0 991.9,165.0 993.1,188.8 996.2,182.5 998.1,171.2 1000.6,165.6 1002.5,175.0 1003.8,187.5 1005.6,186.2 1006.9,177.5 1009.4,177.5 1011.9,188.8 1013.1,202.5 1016.2,206.2 1020.0,198.8 1021.9,171.2 1023.8,168.8 1025.0,188.8 1026.9,208.8 1030.0,206.2 1032.5,197.5 1036.2,192.5 1038.8,198.8 1041.2,205.0 1043.8,197.5 1046.2,196.2 1047.5,211.2 1051.9,210.0 1053.8,205.0 1056.2,203.8 1058.1,203.8 1060.0,198.8 1060.6,173.8 1062.5,165.0 1065.0,153.8 1067.5,153.8 1069.4,162.5 1071.2,166.2 1073.8,170.0 1075.0,177.5 1077.5,186.2 1080.0,193.8 1080.0,193.8 1082.5,200.0 1085.6,206.2 1087.5,190.0 1090.0,196.2 1092.5,193.8 1093.8,181.2 1096.9,178.8 1099.4,176.2 1101.2,175.0 1103.8,158.8 1106.2,157.5 1107.5,152.5 1110.0,151.2 1111.9,160.0 1114.4,148.8 1116.9,147.5 1119.4,146.2 1121.2,155.0 1123.1,167.5 1125.0,171.2 1126.9,151.2 1128.8,152.5 1130.6,167.5 1132.5,180.0 1134.4,160.0 1136.2,158.8 1138.1,163.8 1140.0,182.5 1142.5,193.8 1145.0,197.5 1148.1,190.0 1151.2,177.5 1153.8,170.0 1156.2,165.6 1158.8,172.5 1162.5,177.5 1166.2,180.0 1168.8,191.2 1170.6,187.5 1171.9,163.8 1173.8,180.0 1175.0,190.0 1177.5,183.8 1180.0,175.0 1181.9,168.8 1184.4,171.2 1185.0,156.2 1187.5,158.8 1188.8,167.5 1191.2,176.2 1192.5,211.2 1195.0,210.0 1196.2,198.8 1198.1,200.0 1200.0,187.5" fill="none" stroke="#5b9bd5" stroke-width="3.0" stroke-linejoin="round" stroke-linecap="round"/>
<polyline points="36.0,241.5 39.0,242.2 40.5,244.5 44.2,245.2 45.0,257.2 48.0,257.2 49.5,250.5 52.5,252.0 54.8,247.5 57.0,245.2 60.0,244.5 62.2,247.5 65.2,254.2 69.0,255.0 71.2,257.2 75.0,257.2 76.5,252.0 79.5,255.0 82.5,256.5 83.2,265.5 86.2,250.5 87.8,265.5 90.0,253.5 91.5,261.0 94.5,256.5 96.0,252.0 99.0,258.0 102.0,258.0 102.0,267.8 105.0,261.8 108.0,253.5 110.2,246.8 112.5,250.5 114.0,258.0 116.2,265.5 117.8,270.0 121.5,265.5 123.8,255.0 125.2,249.8 129.0,253.5 131.2,252.0 133.5,266.2 135.8,262.5 138.0,270.0 141.0,264.0 143.2,265.5 144.0,241.5 145.5,234.8 147.0,246.0 148.5,246.8 150.0,258.0 151.5,265.5 153.8,268.5 155.2,265.5 156.0,285.0 159.0,282.0 160.5,277.5 162.0,277.5 164.2,292.5 166.5,288.0 168.0,273.0 170.2,265.5 171.8,268.5 174.0,262.5 177.0,262.5 177.8,282.0 179.2,300.0 181.5,295.5 183.0,291.0 187.5,280.5 190.5,265.5 194.2,263.2 195.8,240.0 197.2,207.0 198.8,208.5 200.2,228.0 202.5,220.5 204.0,208.5 206.2,210.0 207.8,217.5 210.0,216.0 210.0,216.0 212.2,201.0 213.8,207.0 215.2,237.0 216.8,244.5 219.0,241.5 221.2,247.5 223.5,250.5 226.5,256.5 227.2,262.5 229.5,261.8 231.0,255.0 234.0,252.8 237.0,252.0 237.8,235.5 240.0,231.0 242.2,229.5 245.2,225.0 246.8,207.0 249.0,210.0 252.8,216.0 254.2,209.2 255.8,211.5 258.0,219.8 260.2,219.0 261.8,225.0 264.0,231.0 264.8,239.2 266.2,223.5 267.8,222.0 269.2,235.5 270.0,256.5 273.0,252.8 276.0,255.0 278.2,257.2 282.0,255.8 283.5,244.5 286.5,242.2 288.0,253.5 289.5,261.8 291.8,261.0 294.0,249.0 296.2,235.5 297.8,222.0 299.2,219.8 300.8,229.5 302.2,240.0 305.2,237.8 306.8,246.0 308.2,240.0 311.2,241.5 315.0,239.2 317.2,244.5 319.5,246.0 321.8,240.0 324.0,246.0 326.2,252.8 327.8,255.0 328.5,273.0 330.0,294.0 332.2,285.8 334.5,289.5 337.5,287.2 340.5,291.0 342.0,285.0 345.0,283.5 345.8,277.5 348.0,271.5 348.8,253.5 351.0,252.0 352.5,237.0 354.0,228.0 357.0,227.2 360.8,225.0 362.2,228.0 366.0,228.8 369.0,231.8 369.8,225.0 371.2,223.5 372.0,209.2 373.5,217.5 374.2,231.8 376.5,220.5 378.8,223.5 380.2,226.5 382.5,226.5 383.2,192.0 384.8,185.2 387.0,189.0 388.5,193.5 390.0,192.8 390.0,192.8 391.5,202.5 393.0,211.5 395.2,198.0 397.5,191.2 399.0,201.0 400.5,204.0 402.0,193.5 403.5,195.0 405.0,222.0 406.5,228.0 408.0,229.5 408.8,260.2 411.0,260.2 412.5,255.0 415.5,255.0 416.2,234.0 418.5,229.5 420.0,238.5 422.2,252.0 423.8,259.5 424.5,272.2 427.5,270.0 430.5,266.2 434.2,262.5 435.0,234.0 437.2,226.5 438.8,238.5 439.5,272.2 441.8,249.0 444.0,250.5 446.2,255.0 449.2,252.0 450.8,265.5 452.2,282.8 454.5,273.0 455.2,258.0 457.5,265.5 459.0,276.0 459.8,289.5 461.2,285.0 462.8,274.5 463.5,300.0 465.8,292.5 467.2,279.0 469.5,252.0 471.0,220.5 473.2,208.5 474.8,202.5 476.2,196.5 477.8,199.5 479.2,208.5 480.0,223.5 481.5,229.5 483.8,234.0 485.2,210.0 486.0,180.0 487.5,150.0 488.7,125.0 491.9,127.5 492.8,172.5 493.5,214.5 495.0,202.5 496.5,165.0 498.8,137.6 501.0,159.0 503.2,187.5 504.8,207.0 507.0,216.0 509.2,235.5 510.8,202.5 512.2,195.0 514.5,187.5 516.0,213.0 517.5,183.8 519.8,184.5 520.5,201.0 522.0,207.0 524.2,199.5 526.5,192.0 529.5,191.2 532.5,186.0 535.5,168.8 537.0,180.0 538.5,201.0 540.8,214.5 543.0,207.0 546.0,201.0 548.2,196.5 551.2,205.5 552.8,195.0 554.2,192.0 556.5,195.0 557.2,220.5 559.5,222.0 562.5,234.0 564.8,237.0 567.0,241.5 570.0,241.5 570.0,241.5 572.2,246.8 574.5,242.2 579.0,242.2 580.5,234.8 583.5,235.5 586.5,237.0 588.0,246.8 590.2,247.5 591.0,259.5 593.2,264.8 596.2,258.8 598.5,258.0 600.8,270.0 603.8,273.0 606.0,272.2 606.0,289.5 608.2,297.8 609.8,285.0 610.5,265.5 614.2,263.2 615.8,252.0 618.0,256.5 621.0,249.8 622.5,255.0 624.0,267.0 626.2,264.8 630.0,268.5 633.8,270.8 634.5,279.0 636.8,280.5 637.5,262.5 639.8,255.0 642.0,261.0 644.2,247.5 647.2,252.0 651.0,255.8 653.2,252.0 657.0,252.0 660.0,254.2 663.0,255.8 663.8,265.5 666.0,267.0 668.2,275.2 669.8,268.5 673.5,261.0 675.0,258.0 675.8,239.2 677.2,252.0 678.0,261.0 680.2,250.5 684.0,255.0 685.5,258.0 687.0,267.0 689.2,276.0 691.5,277.5 693.8,241.5 695.2,240.0 696.8,246.8 699.8,249.0 704.2,249.0 707.2,234.8 709.5,238.5 711.8,235.5 714.8,238.5 716.2,225.0 717.8,209.2 722.2,213.8 724.5,208.5 726.8,202.5 728.2,198.0 730.5,189.0 732.8,192.8 734.2,194.2 735.8,201.0 738.8,199.5 742.5,205.5 743.2,224.2 745.5,228.0 747.8,226.5 750.0,228.0 750.0,228.5 753.0,229.2 756.0,227.0 759.0,230.0 762.0,230.0 764.2,233.0 768.0,231.5 772.5,231.5 774.8,228.5 777.0,224.8 780.0,224.0 781.5,230.0 782.2,219.5 784.5,218.0 786.8,200.0 789.0,198.5 792.0,200.8 793.5,203.8 795.0,203.0 795.8,153.5 798.0,159.5 800.2,162.5 800.2,221.0 803.2,222.5 807.0,224.0 810.8,224.0 812.2,230.0 814.5,236.0 815.2,242.0 818.2,239.0 821.2,239.8 823.5,242.8 826.5,244.2 828.8,243.5 829.5,236.0 834.0,236.8 837.8,239.0 839.2,243.5 842.2,244.2 844.5,247.2 847.5,243.5 852.8,243.5 854.2,233.0 857.2,233.8 860.2,239.0 862.5,235.2 866.2,238.2 869.2,237.5 873.0,242.0 875.2,239.0 877.5,235.2 883.5,234.5 885.0,228.5 886.5,226.2 887.2,235.2 894.0,236.0 895.5,234.5 900.0,235.2 901.5,246.5 904.5,239.0 909.0,240.5 911.2,237.5 914.2,242.0 918.0,237.5 920.2,231.5 924.0,230.0 927.8,231.5 930.0,230.0 930.0,231.0 931.5,220.5 933.8,208.5 936.0,204.0 938.2,208.5 940.5,228.0 942.0,216.0 943.5,207.8 945.0,222.0 946.5,231.0 948.8,233.2 951.0,231.8 950.2,297.0 953.2,298.5 956.2,303.0 959.2,308.2 961.5,304.5 961.5,291.0 963.8,290.2 964.5,297.0 966.8,279.8 969.0,283.5 969.8,274.5 971.2,273.0 972.0,309.0 974.2,312.8 977.2,312.8 979.5,307.5 982.5,306.0 983.2,313.5 985.5,315.0 984.3,344.2 986.2,330.0 987.8,331.5 989.2,344.2 990.8,343.5 991.5,315.0 992.7,305.2 993.8,324.0 994.5,345.0 995.2,367.5 996.0,390.0 996.8,414.0 997.5,432.0 998.2,414.0 1000.5,405.0 1001.2,384.0 1002.8,364.5 1005.0,357.0 1008.0,360.8 1008.8,351.0 1011.8,345.0 1011.8,300.0 1013.2,276.0 1015.5,265.5 1017.8,276.0 1020.0,274.5 1022.2,270.0 1024.5,265.5 1026.8,261.8 1029.0,259.5 1029.8,271.5 1032.0,276.0 1034.2,282.8 1036.5,277.5 1038.0,265.5 1039.5,253.5 1042.5,251.2 1045.5,254.2 1048.5,249.8 1052.2,249.8 1053.8,255.0 1057.5,259.5 1060.5,264.0 1062.0,270.0 1066.5,268.5 1068.8,264.0 1071.0,259.5 1073.2,258.0 1074.8,252.0 1076.2,235.5 1077.0,217.5 1078.5,193.5 1080.0,189.0 1081.5,202.5 1083.0,201.0 1083.8,217.5 1086.0,223.5 1089.0,228.0 1091.2,231.0 1093.5,227.2 1096.5,234.0 1099.5,231.8 1101.8,225.0 1104.0,222.0 1106.2,226.5 1107.0,199.5 1108.5,180.0 1109.7,178.5 1110.8,188.0 1111.8,198.5 1113.8,194.0 1116.0,198.5 1118.2,203.8 1119.8,212.8 1122.0,216.5 1124.2,219.5 1125.8,227.8 1127.2,239.8 1129.5,233.0 1131.8,220.2 1133.2,219.5 1134.8,234.5 1137.0,222.5 1138.5,221.8 1140.0,239.0 1140.8,215.0 1143.0,216.5 1144.5,214.2 1146.8,219.5 1147.5,214.2 1152.0,213.5 1153.5,212.0 1155.0,219.5 1156.5,228.5 1158.0,239.0 1158.8,247.2 1161.8,246.5 1164.0,244.2 1165.5,247.2 1168.5,242.0 1170.8,245.0 1172.2,246.5 1172.2,264.5 1174.5,272.0 1177.5,276.5 1178.2,284.0 1180.5,296.0 1182.8,302.0 1182.8,314.8 1185.0,323.0 1187.2,309.5 1189.5,290.0 1191.8,288.5 1192.5,262.2 1195.5,264.5 1198.5,265.2 1200.0,265.2" fill="none" stroke="#70ad47" stroke-width="3.0" stroke-linejoin="round" stroke-linecap="round"/>
<polyline points="70.6,822.5 76.2,822.5 81.2,820.0 86.2,821.2 91.2,822.5 96.2,817.5 101.2,817.5 106.2,818.1 110.0,821.2 115.0,820.0 119.4,817.5 123.8,818.1 126.2,822.5 128.1,818.8 130.6,820.0 133.8,821.2 137.5,823.8 140.6,831.2 142.5,842.5 145.0,846.2 148.8,843.8 151.2,841.2 155.0,839.4 158.8,837.5 163.8,835.0 168.8,832.5 173.8,831.2 178.8,831.2 181.9,831.2 185.0,832.5 191.2,831.9 197.5,830.0 203.8,828.1 210.0,830.0 210.0,830.0 217.5,828.8 225.0,826.2 232.5,826.2 241.2,825.0 247.5,823.8 253.8,823.8 260.0,823.8 266.2,826.2 272.5,827.5 278.8,828.8 282.5,831.2 287.5,830.0 292.5,828.8 297.5,826.2 301.9,825.6 303.1,830.0 310.0,831.2 317.5,830.0 325.0,828.8 330.0,828.8 335.0,831.2 341.2,832.5 347.5,831.9 352.5,830.0 356.2,826.2 360.0,825.6 360.0,825.6 365.0,828.8 369.4,828.8 370.6,813.8 373.1,814.4 375.0,825.0 380.0,827.5 385.0,827.5 390.0,825.0 395.0,825.0 401.2,826.2 407.5,826.2 413.8,827.5 418.8,832.5 423.8,833.8 426.2,831.2 431.2,828.8 437.5,827.5 442.5,826.2 447.5,823.8 452.5,823.8 457.5,822.5 462.5,825.6 470.0,825.6 471.9,820.0 475.0,813.8 478.8,815.0 482.5,817.5 487.5,821.2 492.5,823.8 497.5,826.2 502.5,826.2 505.0,823.8 510.0,822.5 510.0,822.5 515.0,822.5 520.0,820.0 525.0,818.8 530.0,822.5 533.1,801.2 534.5,757.5 535.6,780.0 536.9,788.8 541.2,783.8 543.8,792.5 547.5,798.8 551.2,806.2 555.0,800.0 560.0,805.0 565.0,807.5 570.0,808.8 573.8,805.0 575.6,793.8 578.1,801.2 581.2,800.0 585.0,797.5 587.5,793.8 590.0,798.8 593.8,801.2 597.5,805.0 601.2,807.5 606.2,807.5 611.2,810.0 616.2,812.5 621.2,815.0 626.2,818.8 631.2,816.2 635.0,815.0 638.8,813.8 641.2,817.5 645.0,823.8 650.0,826.2 655.0,823.8 660.0,822.5 660.0,822.5 665.0,826.2 670.0,826.2 675.0,821.2 677.5,820.6 681.2,825.0 687.5,826.2 693.8,825.0 700.0,825.0 706.2,826.2 712.5,823.8 717.5,821.2 722.5,822.5 726.2,811.2 730.0,817.5 735.0,820.0 740.0,821.2 745.0,826.2 750.0,823.8 751.9,806.2 756.2,803.8 758.1,776.2 761.2,777.5 765.0,786.2 768.8,790.0 771.2,787.5 775.0,790.0 777.5,797.5 780.0,810.0 783.8,820.0 787.5,823.8 792.5,822.5 797.5,820.0 803.8,823.8 810.0,822.5 810.0,823.8 815.0,826.2 820.0,822.5 825.0,820.0 827.5,812.5 831.2,816.2 836.2,816.2 842.5,818.8 847.5,818.1 853.8,816.2 858.8,815.0 863.8,817.5 870.0,818.1 877.5,817.5 882.5,818.8 887.5,821.2 892.5,823.8 897.5,822.5 902.5,823.8 907.5,821.2 908.8,812.5 912.5,810.0 915.0,816.2 920.0,816.2 926.2,816.2 930.0,816.2 935.0,818.8 940.0,818.8 943.8,821.2 947.5,820.0 950.0,811.2 953.8,795.0 957.5,796.2 960.0,802.5 960.0,798.8 965.0,806.2 970.0,811.2 975.0,817.5 978.8,821.2 982.5,821.2 987.5,817.5 992.5,813.8 997.5,817.5 1002.5,822.5 1007.5,820.0 1012.5,822.5 1017.5,822.5 1022.5,822.5 1027.5,821.2 1032.5,822.5 1036.2,820.0 1038.8,813.1 1042.5,815.0 1045.0,811.2 1048.1,807.5 1051.2,812.5 1055.0,817.5 1057.5,813.1 1060.0,817.5 1065.0,818.8 1068.8,822.5 1071.2,828.8 1076.2,828.8 1081.2,827.5 1085.0,821.2 1088.8,818.8 1092.5,817.5 1096.2,820.0 1100.0,825.0 1105.0,825.0 1110.0,825.6 1110.0,825.6 1115.0,823.8 1120.0,822.5 1125.0,821.2 1130.0,825.0 1135.0,825.0 1140.0,823.8 1145.0,823.8 1150.0,823.8 1155.0,823.8 1160.0,825.0 1165.0,825.0 1170.0,826.2 1173.8,831.2 1178.8,831.2 1182.5,830.0 1186.2,828.8 1188.8,823.8 1191.2,820.0 1193.1,821.2" fill="none" stroke="#7030a0" stroke-width="3.0" stroke-linejoin="round" stroke-linecap="round"/>
<polyline points="70.6,822.5 76.2,822.5 81.2,821.2 86.2,822.5 91.2,823.8 96.2,818.8 101.2,818.8 106.2,820.0 111.2,821.2 115.0,820.0 118.8,818.8 121.2,816.9 123.8,816.2 127.5,811.2 130.0,812.5 133.8,813.8 137.5,815.0 139.4,822.5 141.2,832.5 143.1,843.8 146.2,845.0 150.0,842.5 153.8,840.0 157.5,837.5 162.5,835.0 167.5,832.5 172.5,830.6 177.5,830.0 180.6,828.1 185.0,828.1 191.2,828.8 195.0,828.1 197.5,825.6 203.8,825.6 207.5,828.8 210.0,831.2 210.0,831.2 217.5,830.0 225.0,827.5 232.5,828.8 241.2,825.0 247.5,823.8 253.8,823.8 260.0,823.8 263.8,826.2 270.0,828.8 276.2,829.4 281.2,831.2 285.0,830.0 288.8,828.1 292.5,828.8 297.5,828.8 305.0,830.0 310.0,831.2 317.5,830.6 325.0,828.8 330.0,828.1 335.0,831.2 341.2,832.5 347.5,831.9 352.5,830.0 356.2,828.8 360.0,828.8 360.0,828.8 365.0,830.0 370.0,827.5 372.5,820.0 375.0,825.0 380.0,827.5 385.0,828.8 390.0,826.2 395.0,825.0 398.8,823.8 403.8,825.0 410.0,826.2 415.0,830.0 420.0,832.5 425.0,830.0 430.0,828.8 435.0,827.5 440.0,825.0 442.5,816.2 446.2,815.0 450.0,813.8 455.0,815.0 460.0,816.2 463.8,818.8 467.5,818.8 470.0,813.8 472.5,801.2 476.2,801.2 478.8,808.8 482.5,813.8 486.2,817.5 491.2,820.0 495.0,822.5 498.8,826.2 502.5,828.8 506.2,825.0 510.0,825.0 510.0,826.2 515.0,825.0 520.0,822.5 525.0,821.2 530.0,823.8 533.8,796.2 536.2,791.2 540.0,797.5 543.8,801.2 547.5,805.0 551.2,808.8 555.0,807.5 560.0,813.8 562.5,816.2 566.2,812.5 568.8,816.2 573.8,811.2 578.8,813.8 582.5,806.2 587.5,801.2 592.5,802.5 596.2,807.5 600.0,811.2 605.0,808.8 610.0,811.2 615.0,813.8 620.0,815.0 625.0,816.2 630.0,815.0 635.0,816.2 640.0,818.8 645.0,822.5 650.0,825.0 655.0,823.8 660.0,823.8 660.0,823.8 665.0,825.6 670.0,825.6 675.0,823.8 680.0,826.2 687.5,826.2 693.8,826.2 700.0,826.2 706.2,828.1 712.5,823.8 718.8,823.1 723.8,823.8 726.2,808.8 730.0,813.8 735.0,820.0 740.0,821.2 745.0,823.8 750.0,823.8 751.9,804.4 756.2,803.8 758.1,773.8 761.2,775.0 763.8,782.5 767.5,790.0 771.2,791.2 775.0,792.5 777.5,798.8 780.0,808.8 783.8,817.5 787.5,820.0 792.5,821.2 797.5,820.0 803.8,822.5 807.5,820.6 810.0,821.2 810.0,821.2 813.8,826.2 817.5,818.8 820.0,822.5 823.8,816.2 827.5,812.5 831.2,816.2 836.2,815.0 841.2,816.9 847.5,817.5 852.5,815.0 857.5,814.4 861.2,816.2 866.2,816.2 872.5,818.1 877.5,818.8 882.5,819.4 887.5,822.5 892.5,825.0 897.5,823.8 902.5,823.8 906.2,820.0 908.8,815.0 912.5,813.8 916.2,816.2 921.2,815.6 926.2,816.2 931.2,817.5 935.0,820.6 940.0,817.5 945.0,817.5 948.8,815.0 951.2,798.8 953.8,787.5 956.2,795.0 960.0,800.0 960.0,798.8 963.8,800.0 966.2,805.0 971.2,807.5 975.0,813.8 978.8,820.0 983.8,821.2 988.8,817.5 993.8,812.5 997.5,815.0 1002.5,821.2 1007.5,821.2 1012.5,822.5 1017.5,822.5 1022.5,822.5 1027.5,821.2 1032.5,822.5 1037.5,820.0 1041.2,817.5 1045.0,813.8 1048.1,810.0 1051.2,813.8 1055.0,817.5 1060.0,818.8 1065.0,818.8 1068.8,822.5 1071.2,830.0 1076.2,830.0 1081.2,828.1 1085.0,823.8 1088.8,822.5 1092.5,820.0 1096.2,822.5 1100.0,826.2 1105.0,826.2 1110.0,826.2 1110.0,826.2 1115.0,825.0 1118.8,823.1 1123.8,823.8 1128.8,826.2 1135.0,826.2 1140.0,825.6 1145.0,825.0 1148.8,823.8 1153.8,825.0 1158.8,825.0 1163.8,823.8 1168.8,826.2 1172.5,832.5 1178.8,832.5 1182.5,831.2 1186.2,828.8 1188.8,825.0 1191.2,823.8 1193.1,825.0" fill="none" stroke="#ed7d31" stroke-width="3.0" stroke-linejoin="round" stroke-linecap="round"/>
<polyline points="70.6,819.4 73.8,816.2 76.2,815.0 78.1,810.0 80.6,812.5 83.1,818.8 85.6,822.5 87.5,827.5 92.5,827.5 95.0,822.5 97.5,818.1 100.0,815.6 103.8,815.6 104.4,822.5 107.5,823.1 110.0,820.0 113.8,817.5 116.9,812.5 119.4,811.2 122.5,813.8 126.2,816.2 130.0,817.5 133.8,820.0 137.5,822.5 140.0,828.8 142.5,837.5 145.6,837.5 148.8,833.8 152.5,837.5 155.0,836.2 158.8,835.0 162.5,836.2 166.2,835.6 170.0,831.2 172.5,828.1 176.2,827.5 178.8,832.5 180.6,837.5 183.8,838.8 187.5,837.5 192.5,838.1 196.2,840.0 198.8,837.5 200.0,828.8 203.8,828.8 207.5,830.0 210.0,831.2 210.0,828.8 216.2,826.2 222.5,827.5 226.2,828.8 232.5,830.0 233.1,835.6 235.6,835.6 236.2,831.2 241.9,831.2 242.5,825.0 247.5,822.5 253.8,821.2 260.0,821.2 266.2,821.2 270.0,823.8 282.5,823.8 283.1,831.2 287.5,831.2 292.5,828.8 297.5,828.8 305.0,828.8 308.8,831.2 313.8,831.2 317.5,830.0 322.5,831.2 326.2,833.8 330.0,836.2 330.6,843.8 333.8,841.2 336.2,838.8 340.0,843.8 343.8,843.8 345.0,838.8 348.8,838.1 352.5,836.2 356.2,837.5 360.0,837.5 360.0,831.2 365.0,832.5 370.0,830.0 375.0,823.8 378.8,823.8 382.5,828.8 385.0,832.5 388.8,836.2 390.0,838.8 392.5,827.5 397.5,826.2 403.8,826.2 408.8,823.8 413.8,823.8 416.2,828.8 422.5,832.5 427.5,828.8 435.0,827.5 441.2,826.2 447.5,825.0 452.5,825.6 457.5,825.0 460.0,822.5 465.0,820.0 470.0,817.5 472.5,807.5 477.5,803.8 481.2,806.2 485.0,806.2 487.5,810.0 492.5,811.2 495.0,812.5 497.5,808.8 501.2,811.2 505.0,811.2 507.5,812.5 508.8,802.5 510.0,802.5 510.5,803.2 514.2,803.2 516.5,798.0 520.2,798.0 522.5,801.8 526.2,804.0 530.0,795.0 533.3,780.0 534.8,757.5 536.8,780.0 540.5,787.5 545.0,792.0 549.5,795.0 552.5,793.5 556.2,790.5 560.0,795.0 564.5,801.0 569.0,804.0 573.5,801.0 578.0,799.5 584.0,795.0 587.0,783.0 590.0,774.0 591.8,770.2 593.8,774.0 596.0,780.0 600.5,786.0 604.2,788.2 608.0,792.0 611.0,798.0 614.0,802.5 620.0,801.0 621.5,805.5 626.0,808.5 630.5,810.0 635.0,811.5 639.5,814.5 644.0,819.0 645.0,822.5 650.0,825.0 655.0,822.5 660.0,820.0 660.0,822.5 662.5,831.2 665.0,833.8 668.8,828.8 673.8,823.8 678.8,824.4 685.0,824.4 690.0,821.9 696.2,821.2 702.5,821.2 707.5,821.2 708.1,815.0 713.8,815.0 720.0,813.8 725.0,815.0 730.0,813.8 735.0,813.1 741.2,813.1 746.2,813.8 748.1,820.0 751.9,820.0 752.5,806.2 756.2,805.0 758.1,786.2 761.2,791.2 764.4,795.0 765.0,800.0 768.8,802.5 771.2,798.8 775.0,801.2 778.8,808.8 782.5,816.2 786.2,810.0 790.0,816.2 793.8,821.2 798.8,825.0 803.8,825.0 810.0,823.8 810.0,826.2 813.8,827.5 817.5,823.8 822.5,820.0 826.2,818.8 830.0,812.5 833.8,816.2 837.5,813.8 842.5,812.5 847.5,812.5 852.5,807.5 857.5,807.5 861.2,806.2 865.0,808.8 868.8,805.0 872.5,807.5 875.0,805.0 878.8,807.5 882.5,808.8 883.8,813.8 887.5,813.8 890.0,817.5 893.8,815.0 897.5,812.5 900.0,810.0 903.8,812.5 906.2,803.8 908.8,803.1 912.5,800.0 916.2,800.0 918.8,798.8 920.6,802.5 923.8,800.0 925.6,793.8 928.1,796.2 931.2,782.5 933.1,788.8 937.5,788.8 938.1,802.5 941.2,803.8 944.4,805.0 946.2,806.2 948.8,803.8 951.2,806.2 953.8,800.0 956.9,795.0 960.0,796.2 960.0,800.0 963.8,808.8 967.5,812.5 971.2,817.5 976.2,820.0 981.2,820.0 985.0,821.2 988.8,817.5 993.8,813.8 998.8,818.8 1002.5,823.8 1007.5,823.8 1012.5,825.0 1013.8,828.8 1018.8,825.0 1023.8,825.0 1027.5,823.8 1031.2,828.8 1035.0,831.2 1038.8,831.2 1040.0,825.0 1046.2,825.0 1047.5,820.0 1052.5,820.0 1056.2,817.5 1061.2,817.5 1065.0,812.5 1068.8,813.8 1071.9,818.8 1075.0,812.5 1076.9,810.0 1080.0,811.2 1082.5,816.2 1086.2,813.8 1091.2,812.5 1096.2,816.2 1101.2,817.5 1105.0,817.5 1108.8,820.0 1110.0,812.5 1110.0,813.8 1117.5,813.1 1122.5,811.2 1123.8,810.0 1126.2,815.6 1131.2,818.1 1136.2,820.0 1140.0,818.1 1145.0,817.5 1145.6,815.6 1155.0,815.6 1156.2,818.1 1162.5,818.8 1167.5,818.8 1170.0,822.5 1173.1,828.8 1176.2,830.0 1180.0,827.5 1185.0,827.5 1187.5,820.0 1190.6,816.9 1193.1,815.6" fill="none" stroke="#a5a5a5" stroke-width="3.0" stroke-linejoin="round" stroke-linecap="round"/>
<polyline points="70.0,831.2 72.5,831.9 75.0,836.2 76.9,830.0 80.6,828.8 81.9,825.6 84.4,826.2 86.2,830.0 89.4,831.2 92.5,833.8 95.6,835.0 96.9,838.1 99.4,836.2 102.5,835.6 106.2,835.0 108.8,832.5 111.2,830.6 113.8,827.5 115.0,823.8 116.9,821.9 119.4,823.1 121.9,825.0 125.0,825.6 128.1,827.5 131.2,825.6 135.0,826.2 136.9,830.6 140.0,831.2 142.5,840.0 145.6,841.2 148.8,840.0 152.5,836.2 155.0,833.8 158.8,831.9 162.5,831.2 166.2,833.8 168.8,833.8 172.5,835.6 177.5,835.0 180.0,831.2 183.1,831.9 187.5,831.2 191.2,830.0 194.4,828.8 196.2,831.2 201.2,831.2 210.0,831.2 210.0,831.2 216.2,831.9 221.2,833.8 226.2,831.2 232.5,829.4 236.2,829.4 241.2,825.6 245.0,823.8 248.8,825.0 253.8,826.9 257.5,828.8 262.5,830.0 266.2,828.1 271.2,830.0 277.5,830.0 282.5,831.2 285.0,836.2 288.8,839.4 292.5,838.1 297.5,838.8 302.5,836.2 303.8,830.0 308.8,831.2 313.8,831.2 318.8,828.8 323.8,828.1 330.0,828.8 333.8,831.9 340.0,831.9 345.0,831.2 350.0,832.5 355.0,831.9 360.0,831.9 360.0,831.2 366.2,831.2 372.5,831.2 380.0,833.8 385.0,831.2 391.2,831.2 397.5,832.5 403.8,831.9 410.0,833.8 415.0,836.2 418.8,838.8 422.5,835.0 427.5,832.5 431.2,833.8 435.0,831.2 438.8,832.5 442.5,831.2 447.5,830.0 449.4,837.5 450.0,841.2 453.8,838.8 457.5,835.0 461.2,832.5 465.0,831.2 468.1,832.5 470.0,838.8 472.5,840.0 475.0,845.0 478.1,848.8 481.2,845.0 485.0,842.5 488.8,838.8 492.5,836.2 496.2,832.5 500.0,831.2 503.8,835.0 507.5,837.5 510.0,837.5 510.0,836.2 511.2,832.5 516.2,831.9 522.5,831.2 526.2,830.6 528.8,831.2 530.6,840.0 532.5,841.2 534.4,828.8 536.2,823.8 540.0,826.2 545.0,826.2 550.0,826.2 555.0,826.2 559.4,823.8 562.5,823.8 565.0,827.5 570.0,826.2 573.8,825.6 575.0,830.0 575.6,818.8 578.8,818.8 581.2,822.5 583.8,826.2 586.2,830.0 588.8,833.1 593.8,833.8 598.8,833.8 602.5,830.0 606.2,828.1 611.2,827.5 615.0,826.2 616.2,831.2 618.8,825.0 622.5,825.0 626.2,827.5 631.2,827.5 636.2,827.5 641.2,826.2 643.1,819.4 645.6,821.2 648.8,823.8 652.5,826.2 656.2,828.8 660.0,830.0 660.0,830.0 661.2,840.0 663.8,843.8 666.2,840.0 670.0,840.0 673.8,838.8 678.8,838.1 682.5,836.2 686.2,838.1 690.0,836.9 692.5,833.1 697.5,832.5 703.8,832.5 710.0,832.5 716.2,832.5 722.5,832.5 727.5,831.9 731.2,831.2 735.0,832.5 741.2,832.5 746.2,830.0 750.0,828.8 753.1,832.5 757.5,833.8 761.2,835.0 765.0,832.5 768.8,829.4 773.8,828.1 777.5,832.5 781.2,835.0 783.8,838.8 787.5,833.8 790.0,832.5 793.8,835.0 797.5,836.2 803.8,836.2 805.0,838.1 810.0,837.5 810.0,836.2 815.0,836.2 818.8,832.5 823.8,831.9 827.5,833.8 831.2,832.5 833.8,833.8 837.5,832.5 840.0,828.8 847.5,828.8 855.0,828.8 862.5,828.8 870.0,828.8 875.0,827.5 880.0,828.8 885.0,828.8 890.0,830.0 892.5,834.4 897.5,833.8 903.8,833.8 906.2,836.2 908.8,833.8 913.8,832.5 915.0,828.8 918.8,828.8 921.2,832.5 925.0,836.2 928.8,833.8 933.8,831.9 940.0,831.9 943.8,832.5 944.4,838.8 947.5,835.0 951.2,835.0 956.2,836.2 960.0,835.6 960.0,835.0 961.2,823.8 963.1,823.8 963.8,832.5 968.8,831.9 973.8,832.5 978.8,833.8 983.8,836.2 988.8,840.0 992.5,838.8 995.0,833.8 1000.0,833.8 1006.2,833.8 1012.5,833.8 1018.8,833.8 1022.5,833.8 1025.0,828.8 1028.8,828.8 1032.5,833.8 1036.2,837.5 1038.8,840.6 1042.5,838.8 1046.2,836.2 1051.2,835.0 1055.0,837.5 1060.0,838.8 1065.0,838.8 1066.9,823.8 1070.0,822.5 1072.5,825.0 1077.5,826.2 1082.5,827.5 1086.2,825.6 1092.5,825.0 1096.2,825.0 1100.0,828.1 1105.0,828.1 1110.0,828.8 1110.0,828.8 1111.2,831.2 1116.2,831.2 1122.5,831.9 1124.4,833.8 1127.5,831.2 1130.0,833.8 1132.5,831.2 1137.5,831.2 1142.5,833.8 1146.2,832.5 1148.8,830.0 1153.8,831.2 1162.5,831.2 1168.8,831.2 1171.2,836.2 1176.2,836.2 1181.2,836.2 1185.0,832.5 1186.2,827.5 1187.5,832.5 1190.0,828.8 1193.1,830.0" fill="none" stroke="#ffc000" stroke-width="3.0" stroke-linejoin="round" stroke-linecap="round"/>
<polyline points="70.6,821.9 73.8,821.2 76.2,823.1 78.1,818.1 81.2,819.4 83.8,821.2 86.9,823.1 90.0,823.1 92.5,819.4 94.4,816.2 96.9,813.8 99.4,817.5 102.5,818.1 105.0,819.4 106.9,822.5 109.4,821.9 111.2,818.1 113.1,815.6 115.6,817.5 118.1,816.2 119.4,803.1 121.9,805.0 124.4,810.0 126.9,813.8 130.0,816.2 133.1,818.1 136.2,819.4 138.8,822.5 140.6,830.0 141.9,843.8 143.1,850.0 145.0,853.1 146.9,847.5 150.0,845.0 153.1,843.1 155.0,839.4 157.5,837.5 160.0,836.2 163.1,835.0 165.0,832.5 168.8,831.9 172.5,830.0 176.2,830.0 178.8,831.2 180.6,833.8 183.8,835.0 187.5,833.8 192.5,832.5 196.2,831.2 198.8,829.4 202.5,830.0 205.0,828.8 208.1,830.0 210.0,830.0 210.0,830.0 215.0,828.8 220.0,827.5 223.8,825.0 226.2,823.8 235.0,824.4 241.2,823.8 241.9,815.6 244.4,821.2 248.8,820.6 253.8,818.8 257.5,821.2 263.8,821.2 268.8,823.8 272.5,827.5 277.5,828.8 281.9,830.0 283.1,841.2 285.0,836.2 288.8,835.0 292.5,832.5 297.5,831.9 301.2,828.8 305.0,831.2 308.8,833.1 313.8,833.8 317.5,835.0 320.0,832.5 325.0,831.2 328.8,831.2 333.8,833.1 337.5,831.2 340.0,833.8 342.5,838.1 345.0,835.0 348.8,833.8 352.5,832.5 356.2,831.9 360.0,831.9 360.0,831.9 365.0,830.0 369.4,828.8 370.6,818.8 373.8,818.8 375.0,826.2 378.8,828.8 383.8,827.5 388.8,826.2 390.0,820.6 393.1,821.2 395.0,825.0 398.8,826.2 403.8,828.8 410.0,828.8 415.0,832.5 420.0,833.8 425.0,830.0 430.0,828.8 435.0,827.5 440.0,827.5 443.8,823.8 448.8,823.8 449.4,810.0 452.5,808.8 455.6,811.2 456.9,817.5 460.0,820.0 463.8,821.2 467.5,820.0 468.8,813.8 470.6,813.1 471.9,800.0 475.6,800.0 477.5,811.2 481.2,815.0 485.0,820.0 490.0,822.5 495.0,826.2 500.0,826.2 502.5,820.0 505.0,817.5 507.5,816.2 510.0,818.8 510.0,818.8 515.0,818.1 515.6,813.8 520.0,813.8 520.6,818.8 526.2,818.8 530.0,825.0 533.1,823.8 533.8,795.0 536.2,796.2 538.8,806.2 541.2,813.8 543.1,803.8 546.2,805.0 550.0,817.5 553.1,816.2 555.0,808.8 558.1,806.2 561.2,807.5 563.8,803.8 567.5,808.8 571.2,811.2 575.0,807.5 575.6,795.0 578.1,803.8 581.2,806.2 585.0,800.0 590.0,805.0 590.6,788.1 593.1,788.8 596.2,800.0 600.0,798.8 603.8,801.2 608.8,803.8 611.2,808.8 616.2,810.0 618.8,812.5 623.8,812.5 628.8,815.0 632.5,817.5 633.8,825.0 637.5,825.0 638.8,820.0 642.5,821.2 645.0,826.2 645.6,833.8 648.8,830.0 652.5,826.2 656.2,822.5 660.0,820.0 660.0,818.8 662.5,825.0 665.0,832.5 667.5,828.8 670.0,833.8 673.8,828.8 677.5,826.2 681.2,825.6 686.2,830.6 690.0,825.0 693.8,826.2 697.5,823.8 702.5,826.2 707.5,826.2 708.8,820.0 713.8,820.0 718.8,817.5 722.5,820.0 725.6,821.2 726.2,803.1 728.8,806.2 732.5,807.5 734.4,815.0 737.5,813.8 740.0,815.0 742.5,821.2 746.2,821.9 747.5,820.0 751.2,822.5 751.9,805.0 755.0,804.4 756.9,802.5 757.5,770.0 758.1,759.4 759.4,765.0 760.6,766.2 761.9,771.2 764.4,771.2 765.6,786.2 767.5,791.2 770.0,796.2 773.8,795.0 776.2,801.2 778.1,810.0 781.2,817.5 783.8,817.5 786.2,811.2 788.8,816.2 792.5,822.5 796.2,821.2 800.0,820.0 803.8,823.8 806.9,825.0 810.0,823.8 810.0,823.8 813.8,826.2 816.2,828.8 818.8,820.0 822.5,825.0 826.2,821.2 827.5,797.5 830.6,801.2 832.5,811.2 836.2,812.5 836.9,805.0 840.6,803.1 843.1,807.5 846.2,808.8 849.4,811.2 850.0,803.1 853.1,804.4 856.9,805.0 860.0,806.2 862.5,813.8 865.0,820.0 867.5,822.5 871.2,821.2 875.0,821.2 880.0,822.5 882.5,820.0 885.0,823.8 888.8,830.0 892.5,830.0 895.0,827.5 898.8,825.0 902.5,826.2 906.2,831.2 908.1,820.0 910.0,811.2 913.8,811.2 916.2,812.5 920.0,812.5 922.5,810.0 926.2,813.8 930.0,817.5 931.9,820.0 933.8,811.2 937.5,810.6 938.8,818.8 942.5,817.5 945.0,815.6 948.8,813.8 951.2,805.0 953.8,793.8 956.2,790.0 958.8,795.0 960.0,798.8 960.0,798.8 963.8,807.5 967.5,810.0 971.2,811.2 975.0,815.0 978.8,813.8 981.2,818.8 985.0,823.8 987.5,818.8 988.8,810.0 992.5,813.8 996.2,815.0 1000.0,818.8 1003.8,820.0 1006.9,816.2 1010.0,817.5 1013.8,821.2 1017.5,821.9 1021.2,821.2 1025.0,823.8 1028.1,818.1 1032.5,820.0 1036.2,823.8 1038.1,815.0 1042.5,816.2 1046.2,818.1 1050.0,816.9 1055.0,820.0 1058.8,817.5 1063.8,818.8 1067.5,816.2 1070.0,825.0 1072.5,827.5 1077.5,826.2 1081.9,826.2 1082.5,816.2 1086.2,815.0 1091.2,811.2 1095.0,815.0 1098.8,816.2 1101.2,825.0 1105.0,823.8 1110.0,825.6 1110.0,820.0 1113.8,817.5 1117.5,815.0 1118.1,820.0 1122.5,821.2 1126.2,822.5 1128.8,828.8 1132.5,830.0 1136.2,831.2 1140.0,828.8 1145.0,828.8 1148.8,826.2 1153.8,826.2 1160.0,826.2 1166.2,826.9 1170.0,827.5 1171.2,835.0 1175.0,835.6 1180.0,835.0 1182.5,836.2 1186.9,836.2 1188.8,830.0 1190.0,822.5 1193.1,823.8" fill="none" stroke="#5b9bd5" stroke-width="3.0" stroke-linejoin="round" stroke-linecap="round"/>
<polyline points="70.6,832.5 76.2,833.8 76.9,844.4 81.9,844.4 83.8,838.8 86.2,840.6 89.4,838.8 92.5,839.4 94.4,841.2 96.9,843.8 98.8,838.8 101.2,839.4 103.1,841.9 103.8,846.2 106.2,843.8 108.1,847.5 109.4,853.8 111.9,847.5 113.8,852.5 116.2,853.8 118.1,845.0 119.4,838.8 122.5,838.1 124.4,835.0 125.6,832.5 128.1,831.2 130.6,831.2 131.9,840.6 135.0,838.8 137.5,836.9 140.0,836.2 141.2,822.5 143.8,818.8 146.2,820.0 148.1,821.9 150.6,821.2 153.1,823.8 160.0,823.8 161.2,820.6 163.1,819.4 164.4,812.5 166.2,810.6 168.8,811.2 170.6,817.5 171.9,820.0 172.5,792.5 174.4,798.8 176.2,807.5 177.5,817.5 179.4,820.0 178.8,868.8 181.9,861.2 183.8,857.5 185.6,856.2 186.2,843.8 189.4,841.9 192.5,841.2 195.6,839.4 198.8,832.5 201.9,831.2 204.4,831.9 205.6,840.0 207.5,851.2 210.0,850.0 210.0,850.0 211.9,845.0 214.4,843.8 216.9,843.8 217.5,831.2 220.0,823.8 222.5,828.8 226.2,838.8 227.5,831.2 228.8,832.5 229.4,787.5 231.9,788.8 232.5,798.8 233.8,786.2 235.6,785.0 236.2,790.6 240.6,790.6 242.5,787.5 243.1,802.5 245.6,811.2 246.2,818.8 248.8,825.0 251.2,828.1 253.8,831.2 254.4,836.2 256.9,836.2 257.5,830.0 260.0,828.8 262.5,831.2 263.8,828.1 267.5,833.8 269.4,831.2 272.5,833.8 275.0,831.2 276.2,840.0 278.1,847.5 280.0,854.4 281.9,852.5 282.5,859.4 284.4,856.2 286.2,856.2 287.5,850.0 290.0,845.6 292.5,843.8 294.4,840.0 295.0,826.2 297.5,816.2 298.1,806.2 300.0,805.6 300.6,785.0 302.5,786.2 303.1,793.1 305.6,797.5 307.5,808.8 310.6,823.8 311.9,812.5 314.4,800.0 316.9,807.5 318.8,796.2 320.6,785.0 321.9,787.5 323.8,790.0 323.8,805.0 326.2,807.5 328.1,806.2 330.6,812.5 332.5,810.0 335.0,816.9 336.2,820.0 337.5,816.2 340.0,817.5 341.9,811.2 343.8,810.6 346.2,814.4 348.1,818.8 350.6,821.2 351.9,823.8 351.9,843.8 353.8,830.0 355.0,848.8 357.5,848.8 360.0,845.0 360.0,845.0 361.9,838.8 363.1,826.2 365.0,826.2 367.5,832.5 370.0,837.5 372.5,836.2 374.4,835.6 374.4,890.0 376.2,887.5 378.1,881.2 380.0,895.0 380.6,877.5 383.1,872.5 383.8,866.2 386.2,867.5 386.9,861.2 389.4,862.5 390.0,848.8 393.1,851.2 395.0,845.0 396.9,837.5 397.5,818.8 398.8,800.0 400.0,800.6 400.6,807.5 402.5,807.5 402.5,862.5 406.2,862.5 408.1,856.2 410.0,853.8 411.9,852.5 411.9,821.2 415.0,818.1 418.1,818.1 418.8,836.2 421.2,831.2 423.8,826.2 428.1,826.2 428.1,855.0 430.0,850.0 431.2,843.8 433.8,845.0 437.5,843.8 439.4,853.8 441.2,861.2 442.5,857.5 443.8,866.2 446.2,857.5 448.8,853.8 449.4,846.2 450.0,862.5 452.5,861.2 453.1,867.5 455.6,871.2 456.9,856.2 460.0,856.2 460.0,873.8 462.5,878.8 463.1,897.5 466.2,897.5 466.2,885.0 468.8,881.2 468.8,868.8 468.8,869.0 468.0,950.0 470.2,948.5 472.5,939.5 472.5,920.0 475.5,913.2 475.5,888.5 478.5,888.5 478.5,1004.0 481.5,999.5 481.5,992.0 480.0,989.0 485.2,963.5 485.2,939.5 486.8,930.5 489.0,926.0 487.5,917.0 490.5,920.0 493.5,923.0 493.5,935.8 495.0,905.0 496.5,890.0 498.0,860.0 496.9,853.8 498.8,853.8 500.0,856.2 503.1,855.0 504.4,850.0 506.2,846.2 506.9,863.8 506.2,869.0 509.2,885.5 509.2,897.5 513.8,897.5 513.8,882.5 516.8,875.0 516.8,860.0 510.0,880.0 511.2,897.5 513.8,897.5 513.8,880.0 516.2,876.2 516.2,833.8 518.8,832.5 521.2,833.8 522.5,838.8 522.5,825.0 525.6,822.5 528.8,821.2 529.0,772.5 530.6,788.8 532.2,822.5 533.1,782.5 533.3,720.0 534.5,670.5 535.7,730.5 537.5,744.0 539.0,756.0 539.3,792.0 540.5,766.5 544.2,762.0 545.8,770.2 548.0,769.5 550.2,787.5 552.5,792.0 554.0,804.0 556.2,810.0 557.8,807.0 559.2,775.5 561.5,771.0 563.0,767.2 564.5,774.0 566.8,778.5 568.2,784.5 572.0,792.0 574.2,787.5 576.5,778.5 578.8,772.5 581.0,778.5 582.5,790.5 584.0,810.0 585.5,817.5 587.8,808.5 590.0,802.5 592.2,795.0 594.5,785.2 596.0,790.5 597.5,799.5 599.8,790.5 602.0,795.0 600.0,790.0 601.9,798.8 603.8,817.5 607.5,823.8 610.0,820.0 613.8,816.2 616.2,825.0 618.8,811.2 621.2,812.5 625.0,810.0 628.8,812.5 631.9,805.0 635.0,807.5 637.5,822.5 641.2,827.5 645.0,825.0 647.5,836.2 651.2,838.8 653.1,825.0 654.4,816.2 656.2,822.5 657.5,840.0 658.8,870.0 660.0,897.5 660.6,910.0 662.5,906.2 664.4,906.9 666.2,902.5 667.5,893.8 669.4,891.2 670.0,881.2 673.1,880.0 673.8,873.8 676.9,862.5 680.0,860.6 680.0,891.9 682.5,886.9 683.1,881.2 686.2,881.2 686.9,887.5 690.0,886.9 690.6,883.1 693.1,880.6 691.9,867.5 695.0,861.2 696.9,859.4 698.8,864.4 700.0,848.8 701.2,836.2 703.1,845.0 706.2,846.2 708.8,843.8 710.6,841.9 712.5,843.8 714.4,840.6 717.5,836.9 720.0,838.8 720.6,841.2 726.9,841.2 726.2,808.1 729.4,810.0 732.5,812.5 733.8,823.8 736.2,825.0 739.4,821.2 742.5,823.8 743.1,832.5 746.2,835.0 748.1,837.5 748.8,841.2 751.9,845.0 755.0,843.8 758.8,842.5 758.8,807.5 761.9,805.6 765.0,808.8 768.8,811.9 771.2,815.0 775.0,813.8 778.8,818.8 783.1,822.5 786.2,821.2 789.4,823.8 791.9,825.0 793.8,831.2 795.6,808.8 799.4,808.8 801.2,825.0 803.8,827.5 806.2,833.8 808.1,830.0 810.0,828.8 810.0,825.0 812.5,828.8 815.0,832.5 817.5,837.5 818.1,848.8 821.2,850.0 823.8,858.8 827.5,858.8 830.0,851.2 831.9,846.2 834.4,843.8 836.9,843.1 840.0,841.2 843.1,845.0 846.9,845.0 850.0,845.6 853.1,843.8 856.2,843.8 858.1,836.2 860.0,833.1 863.1,830.6 867.5,828.8 871.2,831.2 876.2,831.2 880.0,828.8 881.9,825.0 883.8,818.8 886.2,820.0 888.8,823.8 891.2,826.2 895.0,827.5 898.8,828.1 902.5,826.2 906.2,825.0 910.0,823.8 911.9,828.8 913.8,825.0 915.6,820.0 915.6,741.9 917.5,744.4 918.8,760.0 920.0,748.8 921.9,747.5 923.1,753.1 925.0,747.5 926.2,753.8 928.8,757.5 930.6,762.5 931.2,772.5 933.8,763.8 935.0,761.2 936.2,767.5 937.5,751.9 938.1,778.8 941.2,782.5 942.5,785.6 945.0,787.5 945.0,802.5 947.5,807.5 950.0,810.0 951.2,820.0 952.5,845.0 953.8,852.5 957.5,853.8 959.4,850.0 961.2,835.0 963.1,823.8 964.4,842.5 966.9,838.8 968.1,828.8 970.0,828.8 971.9,835.0 975.0,838.8 977.5,835.0 980.0,833.8 982.5,837.5 984.4,840.0 985.0,848.8 987.5,845.0 990.0,835.0 991.9,827.5 993.8,815.0 995.6,816.2 996.9,826.2 997.5,842.5 1000.0,840.0 1002.5,832.5 1004.4,832.5 1006.2,843.8 1008.8,840.0 1010.0,796.2 1011.9,797.5 1013.8,803.8 1014.4,820.0 1016.9,825.0 1020.0,825.0 1021.2,828.8 1022.5,832.5 1025.0,827.5 1025.6,841.2 1028.1,837.5 1028.8,851.2 1031.9,846.2 1033.1,851.2 1035.6,853.8 1038.1,859.4 1039.4,845.0 1042.5,845.0 1043.8,840.0 1046.2,836.2 1049.4,840.0 1050.6,843.8 1053.1,845.6 1055.0,848.8 1057.5,851.2 1060.0,847.5 1063.1,846.2 1066.2,845.6 1066.9,872.5 1068.8,860.0 1070.6,851.2 1072.5,850.0 1073.1,856.2 1075.0,845.0 1076.9,832.5 1080.0,832.5 1085.0,832.5 1088.8,832.5 1090.0,837.5 1092.5,840.0 1095.0,838.8 1098.8,838.8 1100.6,843.8 1101.9,846.2 1101.9,876.9 1103.8,870.0 1105.6,872.5 1107.5,863.8 1110.0,856.2 1110.0,856.2 1111.2,853.1 1115.0,852.5 1117.5,853.8 1119.4,850.0 1122.5,846.2 1123.8,853.8 1126.2,836.2 1127.5,855.0 1130.0,870.0 1131.2,856.2 1136.2,856.2 1136.2,876.2 1138.8,880.0 1140.6,877.5 1142.5,876.2 1142.5,868.8 1145.0,868.8 1145.6,863.8 1148.8,861.2 1151.2,868.8 1151.9,877.5 1155.6,873.8 1155.6,867.5 1158.8,862.5 1161.2,860.0 1164.4,858.8 1165.0,851.2 1167.5,851.2 1167.5,818.8 1170.6,815.0 1171.9,818.8 1173.8,817.5 1176.2,821.2 1180.0,822.5 1182.5,823.8 1184.4,817.5 1186.2,813.1 1187.5,820.0 1190.0,826.2 1193.1,831.2" fill="none" stroke="#70ad47" stroke-width="3.0" stroke-linejoin="round" stroke-linecap="round"/>
<line x1="257.5" x2="306.5" y1="503.6" y2="503.6" stroke="#7030a0" stroke-width="3.0" stroke-linecap="round"/>
<text x="313.0" y="510.4" font-size="23" textLength="45.4" lengthAdjust="spacingAndGlyphs">ATE</text>
<line x1="382.5" x2="433.5" y1="503.6" y2="503.6" stroke="#ed7d31" stroke-width="3.0" stroke-linecap="round"/>
<text x="438.4" y="510.4" font-size="23" textLength="41.6" lengthAdjust="spacingAndGlyphs">MIT</text>
<line x1="504.5" x2="555.0" y1="503.6" y2="503.6" stroke="#a5a5a5" stroke-width="3.0" stroke-linecap="round"/>
<text x="561.0" y="510.4" font-size="23" textLength="38.4" lengthAdjust="spacingAndGlyphs">ABI</text>
<line x1="623.2" x2="672.5" y1="503.6" y2="503.6" stroke="#ffc000" stroke-width="3.0" stroke-linecap="round"/>
<text x="679.8" y="510.4" font-size="23" textLength="36.7" lengthAdjust="spacingAndGlyphs">SPC</text>
<line x1="743.5" x2="792.2" y1="503.6" y2="503.6" stroke="#5b9bd5" stroke-width="3.0" stroke-linecap="round"/>
<text x="799.5" y="510.4" font-size="23" textLength="36.5" lengthAdjust="spacingAndGlyphs">FIN</text>
<line x1="862.6" x2="911.9" y1="503.6" y2="503.6" stroke="#70ad47" stroke-width="3.0" stroke-linecap="round"/>
<text x="919.2" y="510.4" font-size="23" textLength="41.2" lengthAdjust="spacingAndGlyphs">BTC</text>
<line x1="185.0" x2="245.0" y1="1074.6" y2="1074.6" stroke="#7030a0" stroke-width="3.0" stroke-linecap="round"/>
<text x="252.8" y="1081.5" font-size="23" textLength="50.2" lengthAdjust="spacingAndGlyphs" xml:space="preserve">AT E</text>
<line x1="336.0" x2="396.0" y1="1074.6" y2="1074.6" stroke="#ed7d31" stroke-width="3.0" stroke-linecap="round"/>
<text x="404.0" y="1081.5" font-size="23" textLength="49.0" lengthAdjust="spacingAndGlyphs" xml:space="preserve">MI T</text>
<line x1="484.0" x2="544.0" y1="1074.6" y2="1074.6" stroke="#a5a5a5" stroke-width="3.0" stroke-linecap="round"/>
<text x="552.0" y="1081.5" font-size="23" textLength="46.0" lengthAdjust="spacingAndGlyphs" xml:space="preserve">AB I</text>
<line x1="629.0" x2="689.0" y1="1074.6" y2="1074.6" stroke="#ffc000" stroke-width="3.0" stroke-linecap="round"/>
<text x="695.0" y="1081.5" font-size="23" textLength="43.0" lengthAdjust="spacingAndGlyphs" xml:space="preserve">SP C</text>
<line x1="774.0" x2="834.0" y1="1074.6" y2="1074.6" stroke="#5b9bd5" stroke-width="3.0" stroke-linecap="round"/>
<text x="840.0" y="1081.5" font-size="23" textLength="43.0" lengthAdjust="spacingAndGlyphs" xml:space="preserve">FI N</text>
<line x1="919.0" x2="979.0" y1="1074.6" y2="1074.6" stroke="#70ad47" stroke-width="3.0" stroke-linecap="round"/>
<text x="986.0" y="1081.5" font-size="23" textLength="48.0" lengthAdjust="spacingAndGlyphs" xml:space="preserve">BT C</text>
</svg></body></html>
